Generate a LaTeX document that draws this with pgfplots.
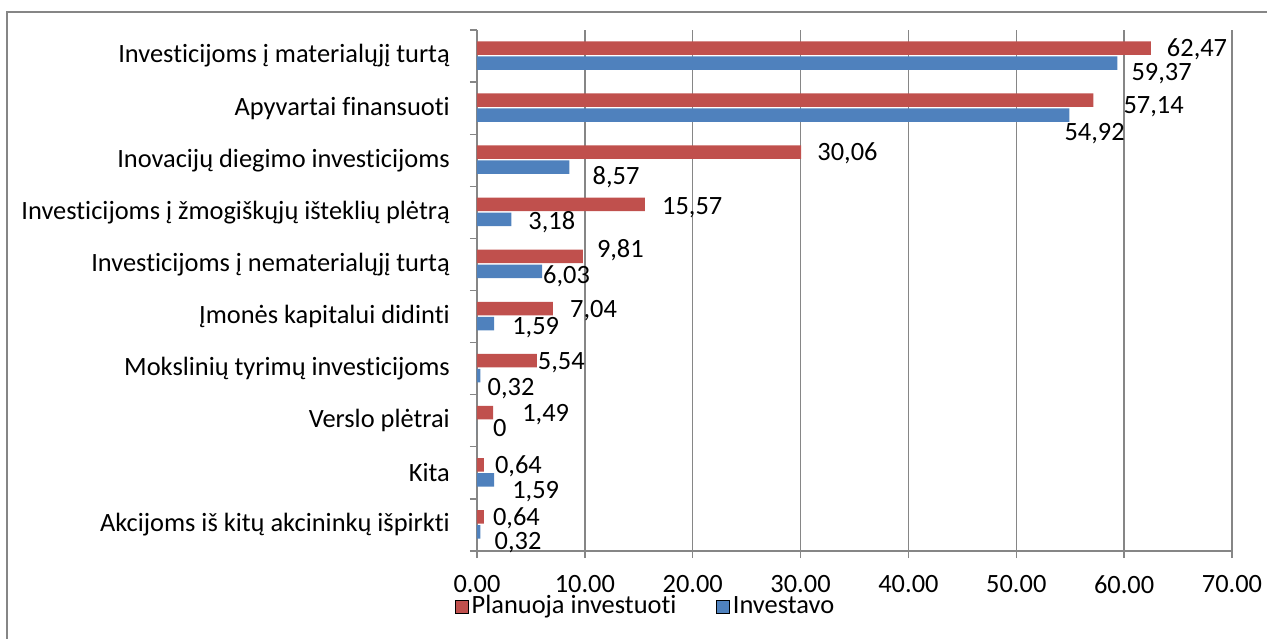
\documentclass[border=0pt]{standalone}
\usepackage{fontspec}
\setmainfont{Carlito}[Ligatures={NoCommon}]
\usepackage{pgfplots}
\usepackage{pgfplotstable}
\pgfplotsset{compat=1.18}
\definecolor{cred}{RGB}{192,80,77}
\definecolor{cblue}{RGB}{79,129,189}
\definecolor{cgrid}{RGB}{134,134,134}

% lab = xshift/yshift/label (shifts in bp)
\pgfplotstableread{
y x lab
9 62.47 16/0/62,47
8 57.14 30/-5/57,14
7 30.06 16/0/30,06
6 15.57 17/-2/15,57
5 9.81 14/7/9,81
4 7.04 17/0/7,04
3 5.54 1/0/5,54
2 1.49 29/0/1,49
1 0.64 11/0/0,64
0 0.64 9/0/0,64
}\planned

\pgfplotstableread{
y x lab
9 59.37 14/-9/59,37
8 54.92 -5/-17/54,92
7 8.57 23/-9/8,57
6 3.18 17/-2/3,18
5 6.03 1/-4/6,03
4 1.59 18/-2/1,59
3 0.32 7/-11/0,32
2 0 16/0/0
1 1.59 18/-10/1,59
0 0.32 14/-9/0,32
}\invested

\def\parselab#1/#2/#3\relax{\hspace*{#1bp}\raisebox{\dimexpr#2bp-8.5bp\relax}[0pt][0pt]{#3}}

\pgfplotsset{lbl/.style={
  point meta=explicit symbolic,
  nodes near coords={\expandafter\parselab\pgfplotspointmeta\relax},
  nodes near coords style={anchor=west, inner sep=0pt, text=black, yshift=#1},
}}

\begin{document}
\fontsize{26.5}{31}\selectfont
\begin{tikzpicture}
\path[use as bounding box] (0,0) rectangle (1267bp,639bp);
\draw[cgrid, line width=1.3bp] (7bp,-20bp) -- (7bp,627bp) -- (1290bp,627bp);
\begin{axis}[
  at={(477bp,88bp)}, anchor=south west,
  scale only axis, width=755bp, height=521bp,
  xmin=0, xmax=70, ymin=-0.5, ymax=9.5,
  xtick={0,10,...,70},
  xticklabels={0.00,10.00,20.00,30.00,40.00,50.00,60.00,70.00},
  ytick={-0.5,0.5,1.5,2.5,3.5,4.5,5.5,6.5,7.5,8.5,9.5},
  yticklabels={{},
    Akcijoms iš kitų akcininkų išpirkti,
    Kita,
    Verslo plėtrai,
    Mokslinių tyrimų investicijoms,
    Įmonės kapitalui didinti,
    Investicijoms į nematerialųjį turtą,
    Investicijoms į žmogiškųjų išteklių plėtrą,
    Inovacijų diegimo investicijoms,
    Apyvartai finansuoti,
    Investicijoms į materialųjį turtą},
  yticklabel style={anchor=east, inner sep=0pt, xshift=-20bp, yshift=-26bp},
  xticklabel style={anchor=north, inner sep=0pt, yshift=-17bp},
  axis x line*=bottom, axis y line*=left,
  axis line style={cgrid, line width=1.3bp},
  tick align=outside, major tick length=7bp,
  tick style={cgrid, line width=1.3bp},
  xmajorgrids, major grid style={cgrid, line width=1.3bp},
  legend style={at={(-0.029,-0.107)}, anchor=west, draw=none, fill=none,
    legend columns=2, inner sep=0pt,
    nodes={inner sep=1bp, anchor=west},
    /tikz/every even column/.append style={column sep=39bp}},
  legend image code/.code={\fill[#1] (0bp,-6.5bp) rectangle (13bp,6.5bp);},
  clip=false,
]
\addplot[xbar, bar width=13.5bp, bar shift=8bp, fill=cred, draw=none, lbl=8bp, forget plot]
  table[x=x, y=y, meta=lab]{\planned};
\addplot[xbar, bar width=13.5bp, bar shift=-7bp, fill=cblue, draw=none, lbl=-7bp, forget plot]
  table[x=x, y=y, meta=lab]{\invested};
\addlegendimage{fill=cred}
\addlegendentry{\hspace*{2bp}Planuoja investuoti}
\addlegendimage{fill=cblue}
\addlegendentry{\hspace*{2bp}Investavo}
\end{axis}
\end{tikzpicture}
\end{document}
